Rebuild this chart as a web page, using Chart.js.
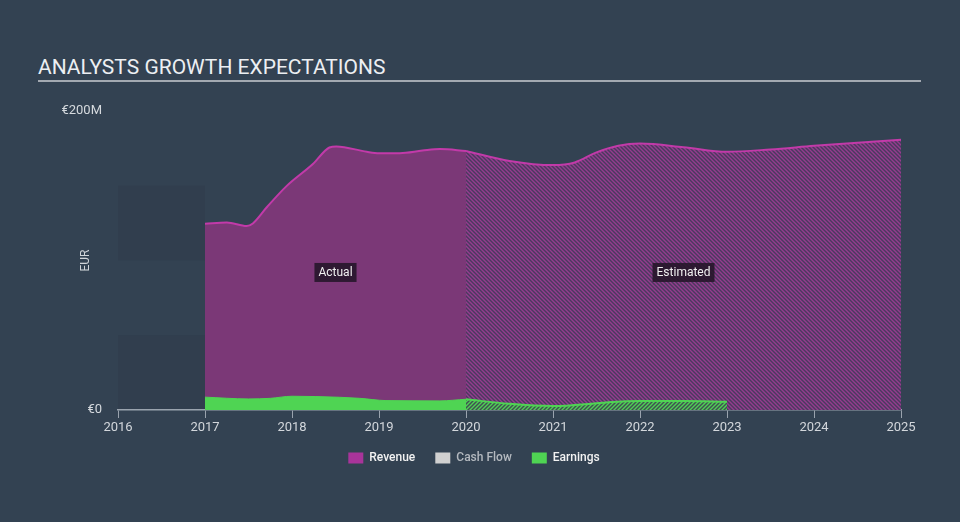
<!DOCTYPE html>
<html lang="en">
<head>
<meta charset="UTF-8">
<title>Analysts growth expectations</title>
<script src="https://cdn.jsdelivr.net/npm/chart.js"></script>
<style>
  body { margin: 0; background: #334252; }
  #wrap { position: relative; width: 960px; height: 522px; font-family: Roboto, sans-serif; }
  #titulo {
    position: absolute; left: 38px; top: 55px; width: 883px;
    color: #eceff2; font-size: 21px; line-height: 25px;
    border-bottom: 2px solid #a3a9b1;
  }
  canvas { position: absolute; left: 0; top: 0; }
</style>
</head>
<body>
<div id="wrap">
  <div id="titulo">ANALYSTS GROWTH EXPECTATIONS</div>
  <canvas id="grafico" width="960" height="522"></canvas>
</div>
<script>
  // valores em milhoes de EUR
  const anosReceitaReal = [2017, 2017.25, 2017.48, 2017.55, 2017.71, 2017.94, 2018.24, 2018.43, 2018.51, 2018.86, 2019, 2019.24, 2019.5, 2019.7, 2020];
  const receitaReal = [124.6, 125.4, 123.0, 124.8, 135.6, 149.9, 164.5, 175.6, 176.3, 172.7, 171.8, 171.8, 173.5, 174.5, 173.3];
  const anosReceitaEst = [2020, 2020.5, 2021, 2021.25, 2021.5, 2021.75, 2022, 2022.5, 2023, 2023.5, 2024, 2024.5, 2025];
  const receitaEst = [173.3, 166.6, 163.8, 165.6, 172.3, 176.7, 178.2, 175.8, 172.7, 174.3, 176.7, 178.8, 180.8];
  const anosLucroReal = [2017, 2017.5, 2017.75, 2018, 2018.55, 2018.78, 2019.08, 2019.7, 2020];
  const lucroReal = [8.6, 7.4, 7.8, 9.2, 8.5, 7.8, 6.3, 6.1, 7.2];
  const anosLucroEst = [2020, 2020.5, 2021, 2021.5, 2021.68, 2022, 2022.5, 2023];
  const lucroEst = [7.2, 4.1, 2.6, 4.5, 5.4, 6.0, 6.0, 5.6];

  const anosEixo = [2016, 2017, 2018, 2019, 2020, 2021, 2022, 2023, 2024, 2025];
  const ticksY = [0, 200];
  const rotulosY = ['€0', '€200M'];
  const faixas = [[0, 50], [100, 150]];
  const faixaAnos = [2016, 2017];
  const notas = [{ texto: 'Actual', ano: 2018.5, valor: 92 }, { texto: 'Estimated', ano: 2022.5, valor: 92 }];

  const pontos = (xs, ys) => xs.map((x, i) => ({ x: x, y: ys[i] }));

  function hachura(fundo, risco, passo, invertido) {
    const c = document.createElement('canvas');
    c.width = c.height = passo;
    const g = c.getContext('2d');
    g.fillStyle = fundo;
    g.fillRect(0, 0, passo, passo);
    g.strokeStyle = risco;
    g.lineWidth = 1.4;
    g.beginPath();
    if (invertido) {
      g.moveTo(0, 0); g.lineTo(passo, passo);
      g.moveTo(-1, passo - 1); g.lineTo(1, passo + 1);
      g.moveTo(passo - 1, -1); g.lineTo(passo + 1, 1);
    } else {
      g.moveTo(0, passo); g.lineTo(passo, 0);
      g.moveTo(-1, 1); g.lineTo(1, -1);
      g.moveTo(passo - 1, passo + 1); g.lineTo(passo + 1, passo - 1);
    }
    g.stroke();
    return g.createPattern(c, 'repeat');
  }

  const ctx = document.getElementById('grafico').getContext('2d');
  const hachuraRoxa = hachura('#4a3a5e', '#953c8f', 4, true);
  const hachuraVerde = hachura('#405052', '#4fd055', 4, false);

  const extras = {
    id: 'extras',
    beforeDraw(chart) {
      const { ctx, scales: { x, y } } = chart;
      ctx.save();
      ctx.fillStyle = '#313e4e';
      const x0 = x.getPixelForValue(faixaAnos[0]);
      const x1 = x.getPixelForValue(faixaAnos[1]);
      faixas.forEach(([a, b]) => {
        const t = y.getPixelForValue(b);
        const bt = y.getPixelForValue(a);
        ctx.fillRect(x0, t, x1 - x0, bt - t);
      });
      ctx.restore();
    },
    afterDatasetsDraw(chart) {
      const { ctx, scales: { x, y } } = chart;
      ctx.save();
      ctx.font = '12px Roboto';
      ctx.textAlign = 'center';
      ctx.textBaseline = 'middle';
      notas.forEach(n => {
        const cx = x.getPixelForValue(n.ano);
        const cy = y.getPixelForValue(n.valor);
        const w = ctx.measureText(n.texto).width + 8;
        ctx.fillStyle = 'rgba(38, 22, 42, 0.9)';
        ctx.fillRect(cx - w / 2, cy - 9.5, w, 19);
        ctx.fillStyle = '#f0f0f0';
        ctx.fillText(n.texto, cx, cy + 0.5);
      });
      ctx.restore();
    },
    afterDraw(chart) {
      const { ctx, chartArea } = chart;
      ctx.save();
      ctx.translate(86, (chartArea.top + chartArea.bottom) / 2);
      ctx.rotate(-Math.PI / 2);
      ctx.font = '12px Roboto';
      ctx.fillStyle = '#d0d4d9';
      ctx.textAlign = 'center';
      ctx.textBaseline = 'middle';
      ctx.fillText('EUR', 0, 0);
      ctx.restore();
    }
  };

  Chart.defaults.font.family = 'Roboto';

  new Chart(ctx, {
    type: 'line',
    data: {
      datasets: [
        {
          label: 'Earnings', data: pontos(anosLucroReal, lucroReal), order: 1,
          borderColor: '#4fd453', borderWidth: 1, backgroundColor: '#4fd453', fill: 'origin',
          pointRadius: 0, cubicInterpolationMode: 'monotone'
        },
        {
          label: 'Earnings est', data: pontos(anosLucroEst, lucroEst), order: 2,
          borderColor: '#4fd453', borderWidth: 2, backgroundColor: hachuraVerde, fill: 'origin',
          pointRadius: 0, cubicInterpolationMode: 'monotone'
        },
        {
          label: 'Cash Flow', data: [], order: 3,
          borderColor: '#d0d0d0', backgroundColor: '#d0d0d0'
        },
        {
          label: 'Revenue', data: pontos(anosReceitaReal, receitaReal), order: 4,
          borderColor: '#c23aa9', borderWidth: 2, backgroundColor: '#7b3877', fill: 'origin',
          pointRadius: 0, cubicInterpolationMode: 'monotone'
        },
        {
          label: 'Revenue est', data: pontos(anosReceitaEst, receitaEst), order: 5,
          borderColor: '#c23aa9', borderWidth: 2, backgroundColor: hachuraRoxa, fill: 'origin',
          pointRadius: 0, cubicInterpolationMode: 'monotone'
        }
      ]
    },
    options: {
      responsive: false,
      animation: false,
      events: [],
      layout: { padding: { left: 47, right: 59, top: 111, bottom: 48 } },
      scales: {
        x: {
          type: 'linear', min: 2016, max: 2025,
          afterBuildTicks: s => { s.ticks = anosEixo.map(v => ({ value: v })); },
          afterFit: s => { s.height = 22; },
          ticks: { color: '#d3d7dc', font: { size: 13 }, padding: 2, callback: v => String(v), maxRotation: 0 },
          grid: { drawOnChartArea: false, drawTicks: true, tickLength: 8, color: '#9aa3ae' },
          border: { color: '#9aa3ae', width: 1.5 }
        },
        y: {
          min: 0, max: 200,
          afterBuildTicks: s => { s.ticks = ticksY.map(v => ({ value: v })); },
          afterFit: s => { s.width = 118 - 47; },
          ticks: { color: '#d6dade', font: { size: 13 }, padding: 8, callback: v => rotulosY[ticksY.indexOf(v)] },
          grid: { display: false },
          border: { display: false }
        }
      },
      plugins: {
        tooltip: { enabled: false },
        legend: {
          position: 'bottom',
          onClick: null,
          labels: {
            boxWidth: 15, boxHeight: 11, padding: 20,
            font: { size: 12, weight: '500' },
            generateLabels: () => [
              { text: 'Revenue', fillStyle: '#a8349a', strokeStyle: '#a8349a', lineWidth: 0, fontColor: '#f2f2f2' },
              { text: 'Cash Flow', fillStyle: '#d0d0d0', strokeStyle: '#d0d0d0', lineWidth: 0, fontColor: '#b4b9bf' },
              { text: 'Earnings', fillStyle: '#4fd453', strokeStyle: '#4fd453', lineWidth: 0, fontColor: '#f2f2f2' }
            ]
          }
        }
      }
    },
    plugins: [extras]
  });
</script>
</body>
</html>
